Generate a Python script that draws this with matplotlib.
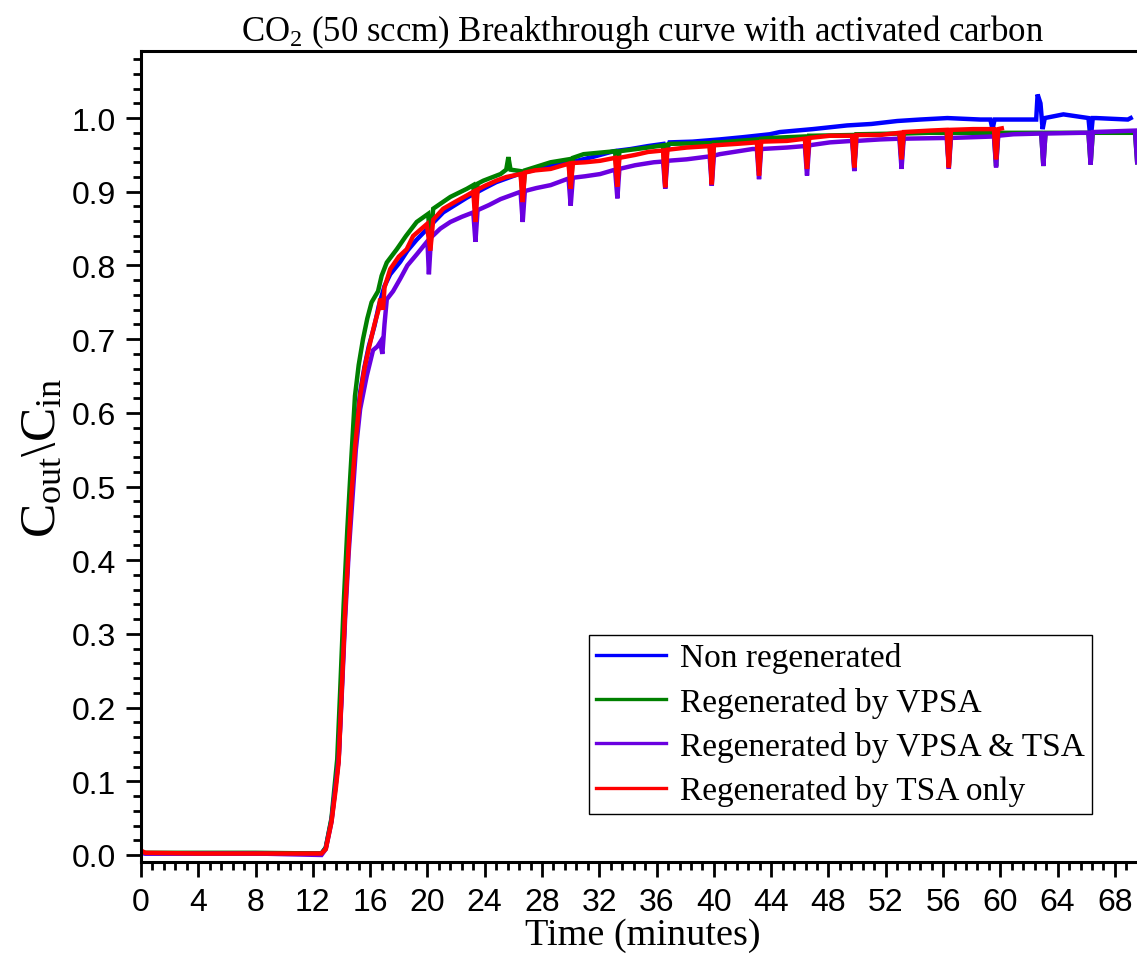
import numpy as np
import matplotlib
matplotlib.use("Agg")
import matplotlib.pyplot as plt
from matplotlib.ticker import MultipleLocator, FormatStrFormatter

plt.rcParams["font.family"] = ["Liberation Serif", "DejaVu Serif"]
plt.rcParams["mathtext.fontset"] = "custom"
plt.rcParams["mathtext.rm"] = "Liberation Serif"
plt.rcParams["mathtext.it"] = "Liberation Serif:italic"
plt.rcParams["mathtext.default"] = "regular"

# ---- data (time in minutes, Cout/Cin) ----
blue_t = [0.0, 0.3, 4.0, 8.0, 12.6, 12.9, 13.3, 13.8, 14.0, 14.25, 14.5, 14.7, 14.95,
          15.3, 15.6, 15.9, 16.3, 16.6, 17.0, 17.4, 18.1, 18.6, 19.25, 20.0, 21.1,
          22.75, 24.0, 24.8, 26.5, 28.6, 30.0, 31.5, 33.0, 34.2, 35.4, 36.5, 36.7,
          36.9, 38.5, 40.4, 42.0, 43.9, 44.6, 46.9, 49.3, 51.0, 52.8, 54.4, 56.3,
          58.6, 59.3, 59.45, 59.6, 60.9, 62.5, 62.6, 62.8, 62.95, 63.1, 64.4, 66.15,
          66.3, 66.45, 66.7, 68.9, 69.1]
blue_v = [0.004, 0.002, 0.002, 0.002, 0.002, 0.010, 0.048, 0.130, 0.220, 0.335, 0.430,
          0.500, 0.565, 0.628, 0.662, 0.690, 0.718, 0.745, 0.772, 0.788, 0.805, 0.820,
          0.835, 0.850, 0.872, 0.892, 0.905, 0.913, 0.925, 0.935, 0.940, 0.947, 0.955,
          0.958, 0.962, 0.965, 0.955, 0.967, 0.968, 0.971, 0.974, 0.978, 0.981, 0.985,
          0.990, 0.992, 0.996, 0.998, 1.000, 0.998, 0.998, 0.985, 0.998, 0.998, 0.998,
          1.032, 1.020, 0.985, 1.000, 1.005, 1.000, 0.970, 1.000, 1.000, 0.998, 1.000]

green_t = [0.0, 0.3, 4.0, 8.0, 12.6, 12.9, 13.3, 13.7, 13.9, 14.15, 14.4, 14.6, 14.94,
           15.2, 15.5, 15.8, 16.1, 16.55, 16.8, 17.16, 17.86, 18.5, 19.25, 20.05, 20.2,
           20.4, 21.6, 22.75, 23.2, 23.35, 23.5, 23.9, 25.1, 25.5, 25.65, 25.8, 26.5,
           26.65, 26.8, 28.6, 29.85, 30.0, 30.15, 30.9, 33.1, 33.26, 33.4, 35.4, 36.45,
           36.6, 36.75, 36.9, 39.7, 39.85, 40.0, 40.4, 43.0, 43.15, 43.3, 43.9, 46.35,
           46.5, 46.65, 46.9, 49.65, 49.8, 49.95, 50.0, 52.95, 53.1, 53.25, 55.0, 56.25,
           56.4, 56.55, 59.55, 59.7, 59.85, 60.0, 62.85, 63.0, 63.15, 65.0, 66.15, 66.3,
           66.45, 69.4, 69.55]
green_v = [0.004, 0.003, 0.003, 0.003, 0.002, 0.010, 0.050, 0.130, 0.220, 0.340, 0.440,
           0.510, 0.623, 0.665, 0.700, 0.728, 0.750, 0.765, 0.786, 0.804, 0.822, 0.840,
           0.859, 0.870, 0.830, 0.877, 0.893, 0.904, 0.909, 0.870, 0.911, 0.915, 0.924,
           0.930, 0.947, 0.930, 0.928, 0.890, 0.929, 0.940, 0.944, 0.905, 0.946, 0.951,
           0.955, 0.910, 0.955, 0.960, 0.963, 0.910, 0.964, 0.965, 0.966, 0.915, 0.967,
           0.967, 0.971, 0.928, 0.972, 0.973, 0.975, 0.935, 0.976, 0.976, 0.977, 0.935,
           0.978, 0.978, 0.979, 0.940, 0.979, 0.980, 0.980, 0.935, 0.980, 0.980, 0.935,
           0.980, 0.980, 0.980, 0.935, 0.980, 0.980, 0.980, 0.937, 0.980, 0.980, 0.940]

purple_t = [0.0, 0.3, 4.0, 8.0, 12.6, 12.9, 13.3, 13.8, 14.0, 14.25, 14.5, 14.75, 15.0,
            15.3, 15.76, 16.2, 16.5, 16.7, 16.85, 17.0, 17.16, 17.6, 18.1, 18.6, 19.25,
            20.0, 20.1, 20.25, 20.9, 21.6, 22.4, 23.2, 23.35, 23.5, 24.3, 25.1, 26.5,
            26.65, 26.8, 27.6, 28.6, 29.85, 30.0, 30.15, 31.0, 32.05, 33.1, 33.26, 33.4,
            34.5, 35.8, 36.45, 36.6, 36.75, 38.1, 39.7, 39.85, 40.0, 40.4, 42.7, 43.0,
            43.15, 43.3, 45.1, 46.35, 46.5, 46.65, 48.1, 49.65, 49.8, 49.95, 51.6, 52.95,
            53.1, 53.25, 56.25, 56.4, 56.55, 59.55, 59.7, 59.85, 60.9, 62.85, 63.0, 63.15,
            65.6, 66.15, 66.3, 66.45, 69.4, 69.55]
purple_v = [0.003, 0.002, 0.002, 0.002, 0.000, 0.008, 0.045, 0.130, 0.210, 0.320, 0.410,
            0.480, 0.550, 0.605, 0.650, 0.685, 0.690, 0.696, 0.680, 0.720, 0.754, 0.765,
            0.782, 0.800, 0.815, 0.833, 0.788, 0.838, 0.850, 0.859, 0.866, 0.872, 0.832,
            0.875, 0.882, 0.890, 0.900, 0.859, 0.901, 0.905, 0.909, 0.918, 0.881, 0.919,
            0.921, 0.924, 0.930, 0.891, 0.931, 0.936, 0.940, 0.941, 0.904, 0.942, 0.944,
            0.948, 0.908, 0.949, 0.951, 0.958, 0.958, 0.917, 0.958, 0.960, 0.962, 0.922,
            0.963, 0.967, 0.969, 0.928, 0.969, 0.971, 0.972, 0.931, 0.972, 0.973, 0.931,
            0.973, 0.975, 0.933, 0.976, 0.978, 0.979, 0.935, 0.979, 0.980, 0.980, 0.937,
            0.981, 0.983, 0.940]

red_t = [0.0, 0.3, 4.0, 8.0, 12.6, 12.9, 13.3, 13.6, 13.8, 14.0, 14.25, 14.5, 14.7,
         14.95, 15.3, 15.6, 15.9, 16.3, 16.6, 16.7, 16.9, 17.0, 17.4, 18.0, 18.55, 19.0,
         19.95, 20.2, 20.4, 21.1, 22.0, 22.75, 23.2, 23.35, 23.5, 24.0, 24.8, 25.5,
         26.5, 26.65, 26.8, 27.5, 28.6, 29.3, 29.85, 30.0, 30.15, 31.0, 32.05, 33.1,
         33.26, 33.4, 34.5, 35.4, 36.45, 36.6, 36.75, 38.1, 39.7, 39.85, 40.0, 41.6,
         43.0, 43.15, 43.3, 45.1, 46.35, 46.5, 46.65, 48.1, 49.65, 49.8, 49.95, 51.6,
         52.95, 53.1, 53.25, 55.1, 56.25, 56.4, 56.55, 58.1, 59.55, 59.7, 59.85, 60.1]
red_v = [0.006, 0.003, 0.002, 0.002, 0.002, 0.008, 0.045, 0.090, 0.126, 0.216, 0.330,
         0.420, 0.490, 0.555, 0.623, 0.660, 0.687, 0.720, 0.741, 0.755, 0.740, 0.770,
         0.795, 0.812, 0.822, 0.840, 0.856, 0.820, 0.862, 0.877, 0.887, 0.895, 0.900,
         0.859, 0.903, 0.908, 0.915, 0.920, 0.924, 0.886, 0.926, 0.929, 0.931, 0.935,
         0.938, 0.904, 0.939, 0.940, 0.942, 0.946, 0.907, 0.946, 0.950, 0.954, 0.956,
         0.906, 0.957, 0.960, 0.962, 0.910, 0.963, 0.965, 0.967, 0.922, 0.968, 0.969,
         0.972, 0.931, 0.973, 0.976, 0.976, 0.933, 0.977, 0.977, 0.980, 0.944, 0.981,
         0.983, 0.984, 0.933, 0.984, 0.985, 0.985, 0.944, 0.985, 0.986]

labels = ["Non regenerated", "Regenerated by VPSA",
          "Regenerated by VPSA & TSA", "Regenerated by TSA only"]
colors = ["#0000ff", "#008000", "#6a00e0", "#ff0000"]

W, H = 1137, 962
fig = plt.figure(figsize=(W / 100, H / 100), dpi=100)
# axes runs a bit past the right edge of the figure, as in the reference
ax = fig.add_axes([141 / W, (H - 863) / H, (1143.6 - 141) / W, (863 - 52) / H])

series = [(blue_t, blue_v), (green_t, green_v), (purple_t, purple_v), (red_t, red_v)]
for (t, v), c, lab in zip(series, colors, labels):
    ax.plot(t, v, color=c, lw=3.2, label=lab, solid_joinstyle="miter")

ax.set_xlim(0, 70)
ax.set_ylim(-0.0095, 1.091)

ax.xaxis.set_major_locator(MultipleLocator(4))
ax.xaxis.set_minor_locator(MultipleLocator(0.8))
ax.yaxis.set_major_locator(MultipleLocator(0.1))
ax.yaxis.set_minor_locator(MultipleLocator(0.02))
ax.yaxis.set_major_formatter(FormatStrFormatter("%.1f"))

for side in ["left", "bottom", "top"]:
    ax.spines[side].set_linewidth(2.2)
ax.spines["right"].set_visible(False)

ax.tick_params(which="major", direction="out", length=11, width=2, pad=7,
               labelsize=23, labelfontfamily="Liberation Sans")
ax.tick_params(which="minor", direction="out", length=5.5, width=2)
ax.tick_params(top=False, right=False)

ax.set_title(r"CO$_2$ (50 sccm) Breakthrough curve with activated carbon",
             fontsize=25, pad=8)
ax.set_xlabel("Time (minutes)", fontsize=27.5, labelpad=0)
ax.set_ylabel(r"C$_{out}\backslash$C$_{in}$", fontsize=37, labelpad=4)

leg = ax.legend(loc="upper left", bbox_to_anchor=(589 / W, (H - 636) / H),
                bbox_transform=fig.transFigure, fontsize=24, frameon=True,
                fancybox=False, edgecolor="black", framealpha=1,
                handlelength=2.1, handletextpad=0.4, borderpad=0.22,
                borderaxespad=0, labelspacing=0.4)
leg.get_frame().set_linewidth(1.0)
for line in leg.get_lines():
    line.set_linewidth(2.4)

fig.savefig("out.png", dpi=100)
